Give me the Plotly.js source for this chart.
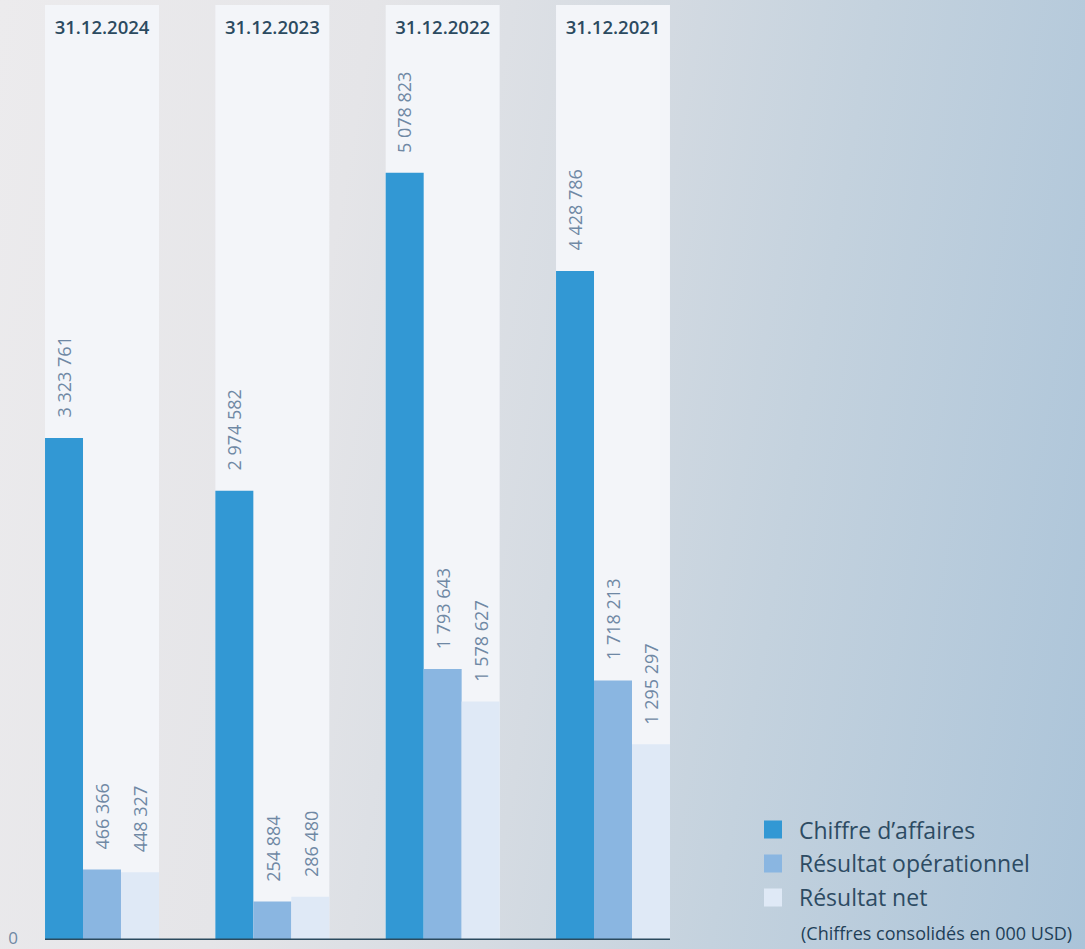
<!DOCTYPE html>
<html>
<head>
<meta charset="utf-8">
<script src="https://cdn.plot.ly/plotly-3.0.1.min.js"></script>
<style>
  html, body { margin: 0; padding: 0; }
  body {
    width: 1085px; height: 949px; overflow: hidden;
    background: linear-gradient(100deg, #ecebed 0%, #e5e5e8 30%, #d5dbe2 52%, #c4d2de 70%, #abc4d9 100%);
  }
  #chart { width: 1085px; height: 949px; }
</style>
</head>
<body>
<div id="chart"></div>
<script>
// ---- data ----
const dates = ['31.12.2024', '31.12.2023', '31.12.2022', '31.12.2021'];
const seriesNames = ['Chiffre d\u2019affaires', 'R\u00e9sultat op\u00e9rationnel', 'R\u00e9sultat net'];
const chiffreAffaires = [3323761, 2974582, 5078823, 4428786];
const resultatOperationnel = [466366, 254884, 1793643, 1718213];
const resultatNet = [448327, 286480, 1578627, 1295297];
const yTickVals = [0];
const yTickText = ['0'];
const note = '(Chiffres consolid\u00e9s en 000 USD)';

// ---- styles ----
const colors = ['#3298d4', '#8ab6e1', '#dfe9f6'];
const panelColor = '#f3f5f9';
const labelColor = '#6f88a4';
const darkText = '#2b4a60';
const bargap = 0.331;
const font = 'Open Sans, Noto Sans, sans-serif';

const allSeries = [chiffreAffaires, resultatOperationnel, resultatNet];
const xIdx = dates.map((d, i) => i);

function fmt(v) {
  return String(v).replace(/\B(?=(\d{3})+(?!\d))/g, ' ');
}

const traces = allSeries.map((vals, j) => ({
  type: 'bar',
  name: seriesNames[j],
  x: xIdx,
  y: vals,
  marker: { color: colors[j] },
  showlegend: false,
  hoverinfo: 'skip'
}));
// legend entries (larger square swatches)
seriesNames.forEach((n, j) => {
  traces.push({
    type: 'scatter', mode: 'markers',
    name: n, x: [null], y: [null],
    legendgroup: 'g' + j,
    marker: { symbol: 'square', size: 20, color: colors[j], line: { color: colors[j], width: 2 } },
    hoverinfo: 'skip'
  });
});

const groupW = 1 - bargap;
const barW = groupW / allSeries.length;

const shapes = [];
xIdx.forEach(i => {
  shapes.push({
    type: 'rect', xref: 'x', yref: 'paper', layer: 'below',
    x0: i - groupW / 2, x1: i + groupW / 2, y0: 0, y1: 1,
    fillcolor: panelColor, line: { width: 0 }
  });
});
shapes.push({
  type: 'line', xref: 'x', yref: 'y', layer: 'above',
  x0: -groupW / 2, x1: xIdx.length - 1 + groupW / 2, y0: 0, y1: 0,
  line: { color: '#2b4a5e', width: 3 }
});

const annotations = [];
allSeries.forEach((vals, j) => {
  vals.forEach((v, i) => {
    annotations.push({
      xref: 'x', yref: 'y',
      x: i + (j - (allSeries.length - 1) / 2) * barW,
      y: v,
      text: fmt(v),
      textangle: -90,
      showarrow: false,
      xanchor: 'center', yanchor: 'bottom',
      yshift: 18,
      font: { family: font, size: 18, color: labelColor }
    });
  });
});
annotations.push({
  xref: 'paper', yref: 'paper',
  x: 0.729, y: 0.0075, xanchor: 'left', yanchor: 'middle',
  text: note, showarrow: false,
  font: { family: font, size: 18, color: '#1f3f58' }
});

const layout = {
  width: 1085, height: 949,
  margin: { l: 30, r: 0, t: 5, b: 9 },
  paper_bgcolor: 'rgba(0,0,0,0)',
  plot_bgcolor: 'rgba(0,0,0,0)',
  barmode: 'group',
  bargap: bargap,
  bargroupgap: 0,
  showlegend: true,
  legend: {
    x: 0.6796, y: 0.141, xanchor: 'left', yanchor: 'top',
    font: { family: font, size: 23, color: '#2d4b63' },
    traceorder: 'grouped',
    tracegroupgap: 1,
    itemwidth: 42,
    itemsizing: 'trace',
    bgcolor: 'rgba(0,0,0,0)'
  },
  xaxis: {
    type: 'linear',
    range: [-0.4227, 5.771],
    side: 'top',
    tickmode: 'array',
    tickvals: xIdx,
    ticktext: dates,
    ticklabelposition: 'inside',
    ticklabelstandoff: 13,
    ticks: '',
    showgrid: false, zeroline: false, showline: false,
    tickfont: { family: font, size: 18.5, color: darkText, weight: 600 }
  },
  yaxis: {
    range: [0, 6190000],
    tickmode: 'array',
    tickvals: yTickVals,
    ticktext: yTickText,
    ticks: '',
    ticklabelstandoff: 11,
    ticklabelshift: -2,
    ticklabeloverflow: 'allow',
    showgrid: false, zeroline: false, showline: false,
    tickfont: { family: font, size: 17, color: labelColor }
  },
  shapes: shapes,
  annotations: annotations
};

Plotly.newPlot('chart', traces, layout, { displayModeBar: false, staticPlot: true });
</script>
</body>
</html>
